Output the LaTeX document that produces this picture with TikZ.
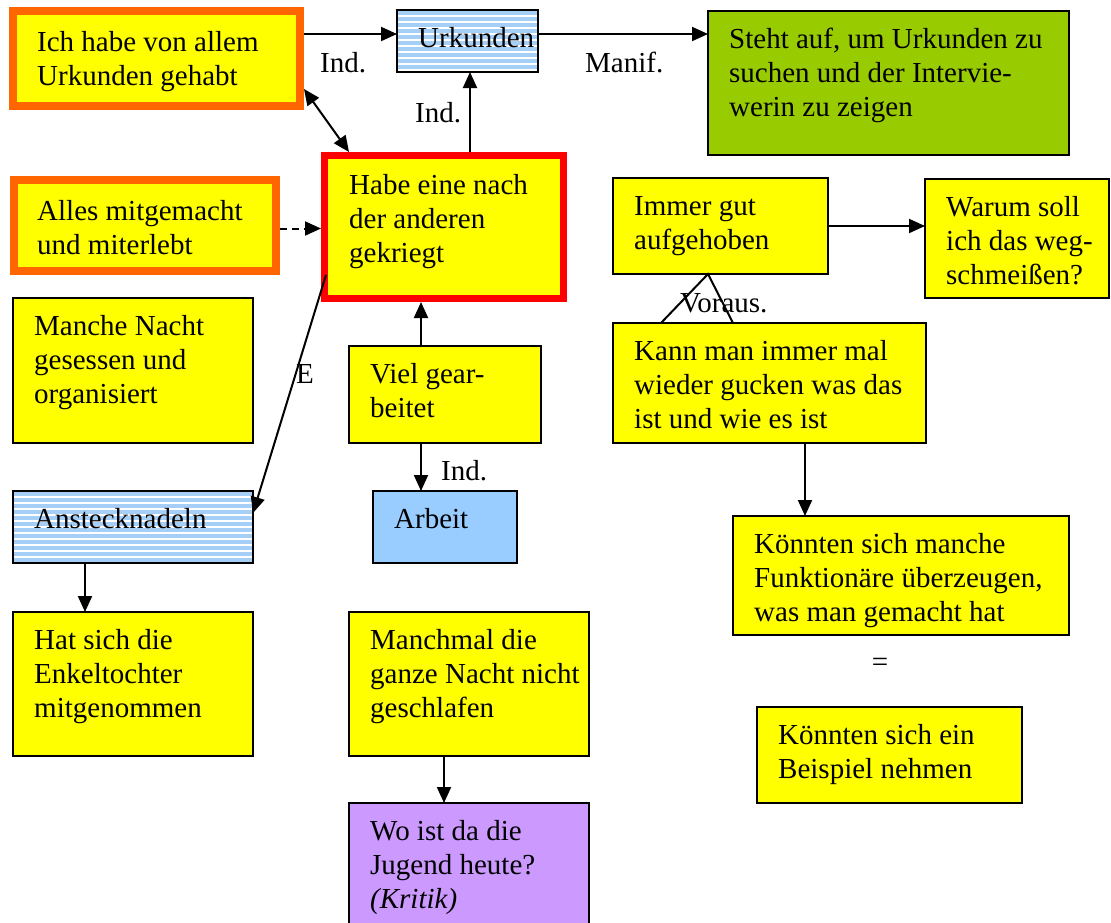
\documentclass[tikz,border=0pt]{standalone}
\usepackage{fontspec}
\setmainfont{Liberation Serif}
\usetikzlibrary{arrows.meta}
\definecolor{yell}{HTML}{FFFF00}
\definecolor{orangeb}{HTML}{FF6600}
\definecolor{redb}{HTML}{FF0000}
\definecolor{greenf}{HTML}{99CC00}
\definecolor{bluef}{HTML}{99CCFF}
\definecolor{purplef}{HTML}{CC99FF}
\definecolor{stripe}{HTML}{A6CFF7}
\newcommand{\fl}{\rule{0pt}{37pt}}
\begin{document}
\begin{tikzpicture}[
        x=1pt, y=-1pt,
        font=\fontsize{29}{34}\selectfont,
        box/.style={
            draw=black,
            fill=#1,
            line width=2pt,
            anchor=north west,
            inner sep=0pt,
            outer sep=0pt
        },
        ybox/.style={box=yell},
        gbox/.style={box=greenf},
        abox/.style={box=bluef},
        pbox/.style={box=purplef},
        sbox/.style={box=white,
            path picture={
                \foreach \k in {0,...,12}
                    \draw[stripe, line width=3.5pt]
                        ([yshift=-\k*6pt-3pt]path picture bounding box.north west) --
                        ([yshift=-\k*6pt-3pt]path picture bounding box.north east);
            }},
        obox/.style={box=yell, draw=orangeb, line width=8pt, outer sep=4pt},
        rbox/.style={box=yell, draw=redb, line width=7pt, outer sep=3.5pt},
        txt/.style={anchor=north west, inner sep=0pt, align=left},
        lbl/.style={anchor=base west, inner sep=0pt},
        arr/.style={draw, line width=2pt, -{Triangle[length=16pt,width=14pt]}},
        darr/.style={draw, line width=2pt, {Triangle[length=16pt,width=14pt]}-{Triangle[length=16pt,width=14pt]}},
        line/.style={draw, line width=2pt}
    ]
        \useasboundingbox (0,0) rectangle (1111,922);
        \clip (0,0) rectangle (1111,922);

        % top row
        \node[obox, minimum width=287, minimum height=95] (ich) at (9,7) {};
        \node[txt] (ichtxt) at ([xshift=28,yshift=-7]ich.north west) {\fl Ich habe von allem\\Urkunden gehabt};
        \node[sbox, minimum width=141, minimum height=62] (urk) at (397,10) {};
        \node[txt] (urktxt) at ([xshift=21]urk.north west) {\fl Urkunden};
        \node[gbox, minimum width=361, minimum height=144] (steht) at (708,11) {};
        \node[txt] (stehttxt) at ([xshift=21]steht.north west) {\fl Steht auf, um Urkunden zu\\suchen und der Intervie-\\werin zu zeigen};

        \draw[arr] ([yshift=-27]ich.north east) -- ([yshift=-27]ich.north east -| urk.west);
        \node[lbl] (indurk) at (320,72) {Ind.};
        \draw[arr] ([yshift=-24]urk.north east) -- ([yshift=-24]urk.north east -| steht.west);
        \node[lbl] (manif) at (585,72) {Manif.};

        % middle
        \node[rbox, minimum width=239, minimum height=143] (habe) at (321,152) {};
        \node[txt] (habetxt) at ([xshift=28,yshift=-5]habe.north west) {\fl Habe eine nach\\der anderen\\gekriegt};
        \node[obox, minimum width=262, minimum height=91] (alles) at (10,176) {};
        \node[txt] (allestxt) at ([xshift=27,yshift=-7]alles.north west) {\fl Alles mitgemacht\\und miterlebt};

        \draw[arr] ([xshift=26]habe.north) -- ([xshift=26]habe.north |- urk.south);
        \node[lbl] (indhabe) at (415,122) {Ind.};
        \draw[darr] ([yshift=21]ich.south east) -- ([xshift=28]habe.north west);
        \draw[arr, dash pattern=on 7pt off 5pt] ([yshift=-3]alles.east) -- ([yshift=-3]alles.east -| habe.west);

        \node[ybox, minimum width=240, minimum height=145] (manche) at (13,298) {};
        \node[txt] (manchetxt) at ([xshift=21]manche.north west) {\fl Manche Nacht\\gesessen und\\organisiert};

        \node[sbox, minimum width=240, minimum height=72] (anst) at (13,491) {};
        \node[txt] (ansttxt) at ([xshift=21]anst.north west) {\fl Anstecknadeln};
        \draw[arr] ([xshift=5,yshift=27]habe.south west) -- ([yshift=-22]anst.north east);
        \node[lbl] (e) at (296,383) {E};

        \node[ybox, minimum width=240, minimum height=144] (hat) at (13,612) {};
        \node[txt] (hattxt) at ([xshift=21]hat.north west) {\fl Hat sich die\\Enkeltochter\\mitgenommen};
        \draw[arr] ([xshift=72]anst.south west) -- ([xshift=72]anst.south west |- hat.north);

        \node[ybox, minimum width=192, minimum height=97] (viel) at (349,346) {};
        \node[txt] (vieltxt) at ([xshift=21]viel.north west) {\fl Viel gear-\\beitet};
        \draw[arr] ([xshift=72]viel.north west) -- ([xshift=72]viel.north west |- habe.south);

        \node[abox, minimum width=144, minimum height=72] (arbeit) at (373,491) {};
        \node[txt] (arbeittxt) at ([xshift=21]arbeit.north west) {\fl Arbeit};
        \draw[arr] ([xshift=72]viel.south west) -- ([xshift=72]viel.south west |- arbeit.north);
        \node[lbl] (indarbeit) at (441,480) {Ind.};

        \node[ybox, minimum width=240, minimum height=144] (manchmal) at (349,612) {};
        \node[txt] (manchmaltxt) at ([xshift=21]manchmal.north west) {\fl Manchmal die\\ganze Nacht nicht\\geschlafen};
        \node[pbox, minimum width=240, minimum height=140] (wo) at (349,803) {};
        \node[txt] (wotxt) at ([xshift=21]wo.north west) {\fl Wo ist da die\\Jugend heute?\\\textit{(Kritik)}};
        \draw[arr] ([xshift=95]manchmal.south west) -- ([xshift=95]manchmal.south west |- wo.north);

        % right side
        \node[ybox, minimum width=215, minimum height=96] (immer) at (613,178) {};
        \node[txt] (immertxt) at ([xshift=21]immer.north west) {\fl Immer gut\\aufgehoben};
        \node[ybox, minimum width=184, minimum height=119] (warum) at (925,179) {};
        \node[txt] (warumtxt) at ([xshift=21]warum.north west) {\fl Warum soll\\ich das weg-\\schmeißen?};
        \draw[arr] (immer.east) -- (immer.east -| warum.west);

        \node[ybox, minimum width=313, minimum height=120] (kann) at (613,323) {};
        \node[txt] (kanntxt) at ([xshift=21]kann.north west) {\fl Kann man immer mal\\wieder gucken was das\\ist und wie es ist};
        \draw[line] ([xshift=48]kann.north west) -- ([xshift=95]immer.south west) -- ([xshift=120]kann.north west);
        \node[lbl] (voraus) at (680,312) {Voraus.};

        \node[ybox, minimum width=336, minimum height=119] (koennten) at (733,516) {};
        \node[txt] (koenntentxt) at ([xshift=21]koennten.north west) {\fl Könnten sich manche\\Funktionäre überzeugen,\\was man gemacht hat};
        \draw[arr] ([xshift=192]kann.south west) -- ([xshift=192]kann.south west |- koennten.north);

        \node (gleich) at (880,665) {=};

        \node[ybox, minimum width=265, minimum height=96] (beispiel) at (757,707) {};
        \node[txt] (beispieltxt) at ([xshift=21]beispiel.north west) {\fl Könnten sich ein\\Beispiel nehmen};
\end{tikzpicture}
\end{document}
